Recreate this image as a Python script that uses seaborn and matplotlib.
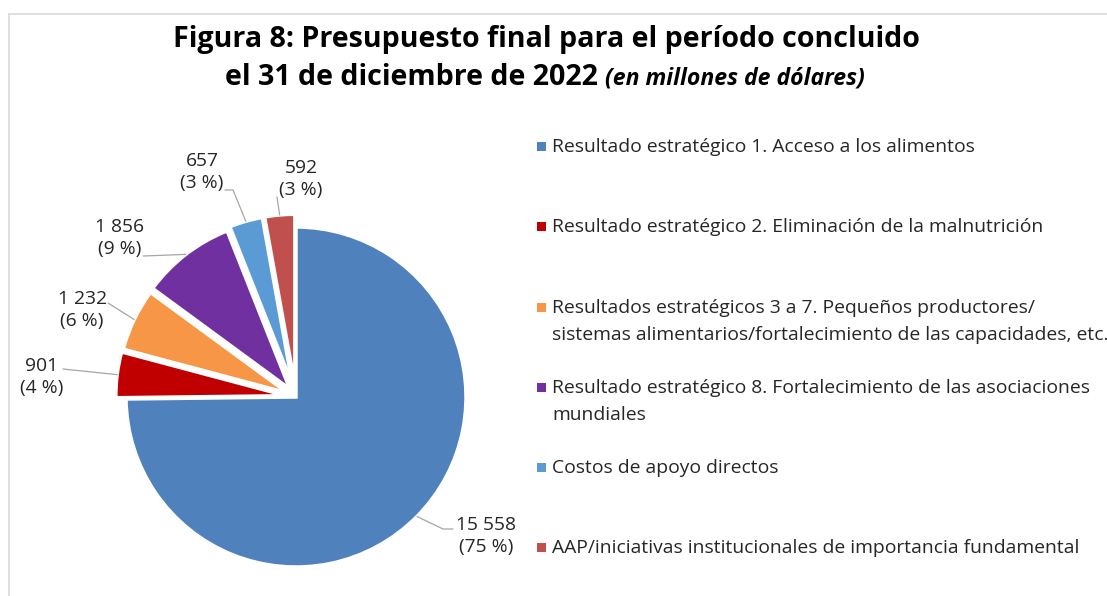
import matplotlib
matplotlib.use("Agg")
import matplotlib.pyplot as plt
import numpy as np
import seaborn as sns

# data
categories = [
    "Resultado estratégico 1. Acceso a los alimentos",
    "Resultado estratégico 2. Eliminación de la malnutrición",
    "Resultados estratégicos 3 a 7. Pequeños productores/\nsistemas alimentarios/fortalecimiento de las capacidades, etc.",
    "Resultado estratégico 8. Fortalecimiento de las asociaciones\nmundiales",
    "Costos de apoyo directos",
    "AAP/iniciativas institucionales de importancia fundamental",
]
values = [15558, 901, 1232, 1856, 657, 592]
colors = ["#4F81BD", "#C00000", "#F79646", "#7030A0", "#5B9BD5", "#C0504D"]
explode = [0, 0.06, 0.055, 0.06, 0.075, 0.075]

sns.set_theme(style="white")
plt.rcParams["font.family"] = ["Open Sans", "DejaVu Sans"]

W, H = 1107, 596
CX, CY, R = 296, 397, 170
TXT = "#262626"
FS = 13.9


def P(px, py):
    # pixel position (from top-left) -> data coords of the pie axes
    return (px - CX) / R, (CY - py) / R


fig = plt.figure(figsize=(W / 100, H / 100), dpi=100)
ax = fig.add_axes([0, 0, 1, 1])
wedges, _ = ax.pie(values, colors=colors, startangle=90, counterclock=False,
                   explode=explode, radius=1,
                   wedgeprops=dict(edgecolor="white", linewidth=2.5))
ax.set_xlim(-CX / R, (W - CX) / R)
ax.set_ylim((CY - H) / R, CY / R)
ax.set_aspect("auto")
ax.axis("off")

# light frame
ax.plot(*zip(P(8.5, 13.5), P(8.5, 600)), color="#D9D9D9", lw=1.2)
ax.plot(*zip(P(8.5, 13.5), P(1110, 13.5)), color="#D9D9D9", lw=1.2)

# data labels with leader lines
total = sum(values)
label_pos = [(486, 536), (42, 377), (82, 310), (120, 238), (202, 172), (301, 179)]
leader_pts = [[(453, 529), (443, 529)], [(63, 369)], [(108, 303)],
              [(143, 256)], [(225, 190), (233, 190)], [(277, 197)]]
for w, v, (lx, ly), pts in zip(wedges, values, label_pos, leader_pts):
    th = np.deg2rad((w.theta1 + w.theta2) / 2)
    cx, cy = w.center
    edge = (cx + w.r * np.cos(th), cy + w.r * np.sin(th))
    path = [P(*p) for p in pts] + [edge]
    ax.plot([p[0] for p in path], [p[1] for p in path], color="#A6A6A6", lw=0.9)
    txt = f"{v:,}".replace(",", " ") + f"\n({round(v / total * 100)} %)"
    ax.text(*P(lx, ly), txt, ha="center", va="center", fontsize=FS,
            color=TXT, linespacing=1.32)

# legend
leg_base = [152, 232, 313, 393, 473, 553]
for lab, col, yb in zip(categories, colors, leg_base):
    x0, y0 = P(537, yb - 1)
    ax.add_patch(plt.Rectangle((x0, y0), 9 / R, 9.5 / R, color=col, lw=0))
    for k, line in enumerate(lab.split("\n")):
        ax.text(*P(552, yb + 27 * k), line, ha="left", va="baseline",
                fontsize=FS, color=TXT)

# title
ax.text(*P(546, 47), "Figura 8: Presupuesto final para el período concluido",
        ha="center", va="baseline", fontsize=20.6, fontweight="bold", color="black")
t1 = ax.text(0, 0, "el 31 de diciembre de 2022 ", ha="left", va="baseline",
             fontsize=20.6, fontweight="bold", color="black")
t2 = ax.text(0, 0, "(en millones de dólares)", ha="left", va="baseline",
             fontsize=16.6, fontweight="bold", fontstyle="italic", color="black")
rend = fig.canvas.get_renderer()
w1 = t1.get_window_extent(rend).width
w2 = t2.get_window_extent(rend).width
start = 545 - (w1 + w2) / 2
t1.set_position(P(start, 85))
t2.set_position(P(start + w1, 85))

plt.savefig("out.png", dpi=100)
plt.close()
